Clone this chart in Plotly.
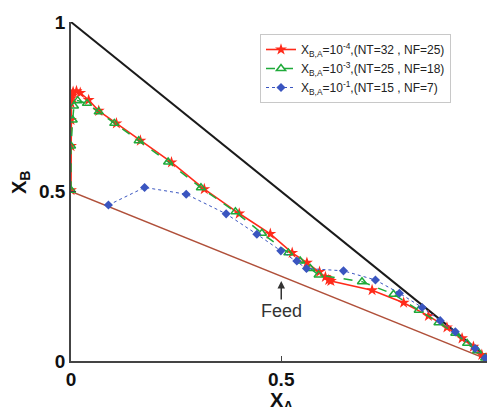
import plotly.graph_objects as go

# Series 1: X_B,A = 1e-4 (NT=32, NF=25)
red_x = [0.0, 0.0, 0.0, 0.0, 0.001, 0.002, 0.005, 0.013, 0.022, 0.042, 0.066, 0.108, 0.165, 0.239,
         0.317, 0.400, 0.474, 0.526, 0.561, 0.591, 0.605, 0.613, 0.618, 0.716, 0.791, 0.850, 0.894,
         0.930, 0.957, 0.977, 0.987, 0.995]
red_y = [0.504, 0.634, 0.711, 0.761, 0.775, 0.782, 0.794, 0.796, 0.791, 0.770, 0.738, 0.701, 0.650,
         0.586, 0.507, 0.435, 0.375, 0.319, 0.290, 0.263, 0.248, 0.239, 0.236, 0.209, 0.172, 0.133,
         0.099, 0.067, 0.042, 0.018, 0.008, 0.003]

# Series 2: X_B,A = 1e-3 (NT=25, NF=18)
green_x = [0.0, 0.0, 0.004, 0.007, 0.016, 0.038, 0.066, 0.103, 0.161, 0.231, 0.309, 0.391, 0.454,
           0.517, 0.545, 0.569, 0.589, 0.692, 0.767, 0.827, 0.874, 0.914, 0.942, 0.966, 0.985]
green_y = [0.504, 0.634, 0.711, 0.752, 0.768, 0.760, 0.735, 0.701, 0.650, 0.587, 0.511, 0.440, 0.377,
           0.319, 0.295, 0.273, 0.254, 0.234, 0.197, 0.150, 0.113, 0.082, 0.052, 0.030, 0.009]

# Series 3: X_B,A = 1e-1 (NT=15, NF=7)
blue_x = [0.089, 0.175, 0.274, 0.369, 0.442, 0.499, 0.537, 0.560, 0.648, 0.724, 0.781, 0.835, 0.878,
          0.914, 0.961, 0.985]
blue_y = [0.460, 0.512, 0.492, 0.434, 0.374, 0.325, 0.295, 0.273, 0.266, 0.239, 0.200, 0.158, 0.119,
          0.086, 0.037, 0.009]

tri_x = [0, 1]
tri_y = [1, 0]
feed_x = [0, 1]
feed_y = [0.5, 0]

names = ["X<sub>B,A</sub>=10<sup>-4</sup>,(NT=32 , NF=25)",
         "X<sub>B,A</sub>=10<sup>-3</sup>,(NT=25 , NF=18)",
         "X<sub>B,A</sub>=10<sup>-1</sup>,(NT=15 , NF=7)"]

FONT = "Liberation Sans, Arial, sans-serif"

W, H = 487, 407
L, R, T, B = 71, 0, 22, 46
pw, ph = W - L - R, H - T - B

fig = go.Figure()
fig.add_trace(go.Scatter(x=tri_x, y=tri_y, mode="lines", line=dict(color="#1a1a1a", width=2),
                         showlegend=False, hoverinfo="skip"))
fig.add_trace(go.Scatter(x=feed_x, y=feed_y, mode="lines", line=dict(color="#b0503a", width=1.5),
                         showlegend=False, hoverinfo="skip"))
fig.add_trace(go.Scatter(x=red_x, y=red_y, mode="lines+markers", name=names[0],
                         line=dict(color="#ff2a1a", width=1.6),
                         marker=dict(symbol="star", size=9, color="#ff2a1a")))
fig.add_trace(go.Scatter(x=green_x, y=green_y, mode="lines+markers", name=names[1],
                         line=dict(color="#1faa3a", width=1.5, dash="dash"),
                         marker=dict(symbol="triangle-up-open", size=8, color="#1faa3a",
                                     line=dict(width=1.5, color="#1faa3a"))))
fig.add_trace(go.Scatter(x=blue_x, y=blue_y, mode="lines+markers", name=names[2],
                         line=dict(color="#3a55c0", width=1, dash="dot"),
                         marker=dict(symbol="diamond", size=7, color="#3a55c0")))

fig.add_annotation(x=0.5, y=0.236, xref="x", yref="y", text="Feed", showarrow=True,
                   ax=0, ay=30, arrowhead=2, arrowsize=1, arrowwidth=1.5, arrowcolor="#333",
                   font=dict(family=FONT, size=18, color="#333"))
fig.add_annotation(x=(20 - L) / pw, y=(H - B - 183) / ph, xref="paper", yref="paper",
                   xanchor="center", yanchor="middle", text="<b>X<sub>B</sub></b>",
                   showarrow=False, textangle=-90, font=dict(family=FONT, size=20, color="#111"))
fig.add_annotation(x=0.5, y=0, xref="x", yref="paper", yanchor="top", yshift=-26,
                   text="<b>X<sub>A</sub></b>",
                   showarrow=False, font=dict(family=FONT, size=20, color="#111"))

fig.update_layout(
    width=W, height=H,
    margin=dict(l=L, r=R, t=T, b=B),
    paper_bgcolor="white", plot_bgcolor="white",
    font=dict(family=FONT, color="#111"),
    legend=dict(x=(260 - L) / pw, y=(H - B - 34) / ph, xanchor="left", yanchor="top",
                bgcolor="white", bordercolor="#c8c8c8", borderwidth=1,
                font=dict(family=FONT, size=12, color="#222"), tracegroupgap=0,
                itemwidth=30),
)
fig.update_xaxes(range=[0, pw / 420.5], showgrid=False, zeroline=False, showline=True,
                 linecolor="#444", linewidth=1.5, ticks="inside", ticklen=5, tickcolor="#444",
                 tickvals=[0, 0.5, 1], ticktext=["<b>0</b>", "<b>0.5</b>", "<b>1</b>"],
                 tickfont=dict(family=FONT, size=19, color="#111"))
fig.update_yaxes(range=[0, 1], showgrid=False, zeroline=False, showline=True,
                 linecolor="#444", linewidth=1.5, ticks="inside", ticklen=5, tickcolor="#444",
                 tickvals=[0, 0.5, 1], ticktext=["<b>0</b>", "<b>0.5</b>", "<b>1</b>"],
                 tickfont=dict(family=FONT, size=19, color="#111"))

fig.write_html("out.html")
